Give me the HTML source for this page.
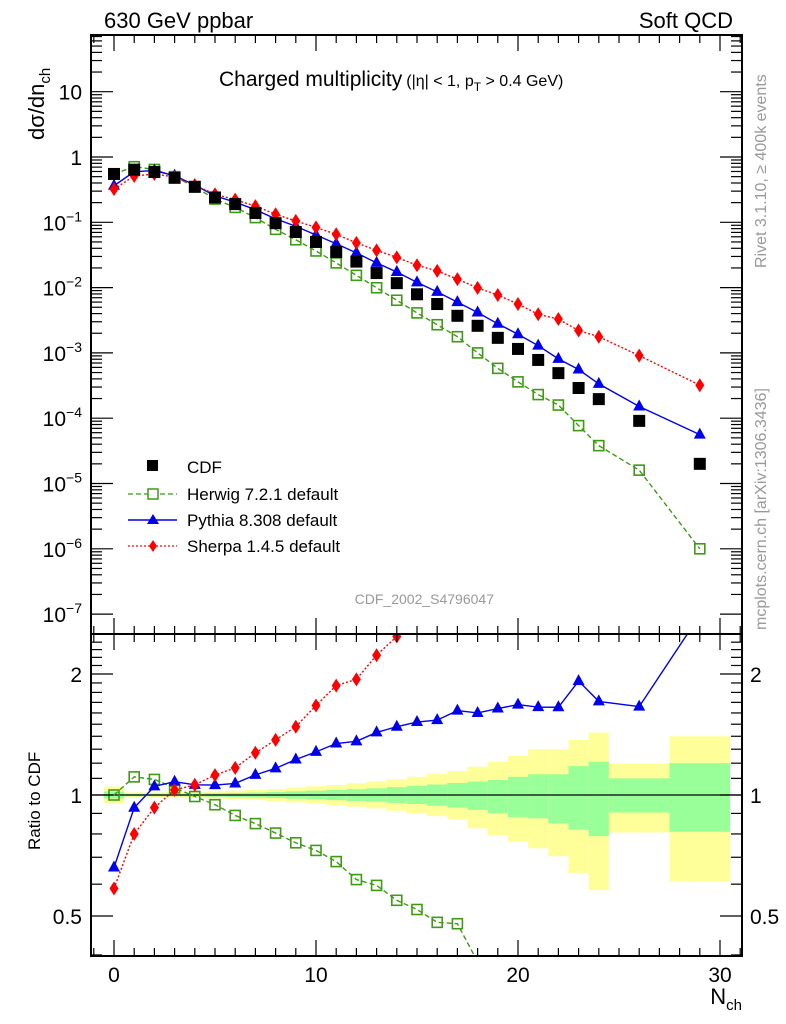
<!DOCTYPE html>
<html><head><meta charset="utf-8"><style>
html,body{margin:0;padding:0;background:#fff;width:786px;height:1024px;overflow:hidden}
svg{display:block;font-family:"Liberation Sans",sans-serif}
</style></head><body>
<svg id="c" width="786" height="1024" xmlns="http://www.w3.org/2000/svg">
<rect x="0" y="0" width="786" height="1024" fill="#fff"/>
<g id="bands"></g>
<g id="series"></g>
<g id="axes"></g>
<text x="104" y="28" font-size="22">630 GeV ppbar</text>
<text x="733" y="28" font-size="22" text-anchor="end">Soft QCD</text>
<text x="219" y="86" font-size="21">Charged multiplicity<tspan font-size="16" dx="4">(|η| &lt; 1, p</tspan><tspan font-size="12" dy="5">T</tspan><tspan font-size="16" dy="-5"> &gt; 0.4 GeV)</tspan></text>
<text transform="translate(44,140) rotate(-90)" font-size="22">dσ/dn<tspan font-size="15" dy="6">ch</tspan></text>
<text transform="translate(40,850) rotate(-90)" font-size="17">Ratio to CDF</text>
<text x="742" y="1004" font-size="22" text-anchor="end">N<tspan font-size="15" dy="6">ch</tspan></text>
<text transform="translate(766,268) rotate(-90)" font-size="16" fill="#999">Rivet 3.1.10, ≥ 400k events</text>
<text transform="translate(766,630) rotate(-90)" font-size="16" fill="#999">mcplots.cern.ch [arXiv:1306.3436]</text>
<text x="494" y="604" font-size="14" fill="#999" text-anchor="end">CDF_2002_S4796047</text>
<g>
<rect x="147" y="460" width="11" height="11" fill="#000"/>
<text x="187" y="473" font-size="17">CDF</text>
<line x1="128" y1="494" x2="177" y2="494" stroke="#3f9a15" stroke-dasharray="5,3" stroke-width="1.3"/>
<rect x="148" y="489" width="10" height="10" fill="#fff" stroke="#3f9a15" stroke-width="1.5"/>
<text x="187" y="500" font-size="17">Herwig 7.2.1 default</text>
<line x1="128" y1="520" x2="177" y2="520" stroke="#0000ee" stroke-width="1.5"/>
<polygon points="153,514 159,524 147,524" fill="#0000ee"/>
<text x="187" y="526" font-size="17">Pythia 8.308 default</text>
<line x1="128" y1="546" x2="177" y2="546" stroke="#ff0000" stroke-dasharray="2,2" stroke-width="1.3"/>
<polygon points="153,540 157,546 153,552 149,546" fill="#ff0000"/>
<text x="187" y="552" font-size="17">Sherpa 1.4.5 default</text>
</g>
</svg>
<script>
const nch = [0,1,2,3,4,5,6,7,8,9,10,11,12,13,14,15,16,17,18,19,20,21,22,23,24,26,29];
const cdf = [0.55,0.64,0.59,0.48,0.35,0.24,0.19,0.139,0.097,0.071,0.050,0.035,0.025,0.0167,0.0117,0.0079,0.0056,0.0037,0.0026,0.0017,0.00115,0.00078,0.00049,0.00029,0.000196,0.000091,0.000020];
const herwig = [0.55,0.71,0.645,0.50,0.347,0.227,0.169,0.118,0.078,0.054,0.0364,0.0239,0.0154,0.00995,0.0064,0.0041,0.0027,0.00177,0.0010,0.00058,0.00036,0.00023,0.000159,0.000077,0.000038,0.000016,0.0000010];
const pythia = [0.363,0.595,0.62,0.518,0.371,0.254,0.203,0.156,0.113,0.087,0.064,0.047,0.034,0.0239,0.0173,0.0120,0.0086,0.0060,0.00416,0.00279,0.00193,0.00129,0.00081,0.000557,0.000335,0.000151,0.000056];
const sherpa = [0.322,0.512,0.549,0.494,0.371,0.269,0.222,0.177,0.133,0.105,0.0835,0.0655,0.0485,0.0372,0.029,0.022,0.018,0.0135,0.0099,0.0077,0.0056,0.0039,0.0033,0.0022,0.00177,0.00091,0.00032];
const yelHi = [1.049,1.015,1.015,1.015,1.015,1.02,1.025,1.029,1.035,1.043,1.051,1.059,1.069,1.08,1.094,1.11,1.128,1.147,1.176,1.21,1.25,1.30,1.30,1.37,1.43,1.197,1.40];
const yelLo = [0.953,0.985,0.985,0.985,0.985,0.98,0.975,0.972,0.966,0.959,0.952,0.944,0.935,0.926,0.914,0.9,0.886,0.872,0.826,0.795,0.765,0.737,0.704,0.64,0.58,0.807,0.61];
const grnHi = [1.02,1.007,1.007,1.007,1.007,1.01,1.012,1.014,1.017,1.021,1.025,1.029,1.034,1.039,1.046,1.054,1.062,1.071,1.08,1.09,1.11,1.126,1.126,1.18,1.21,1.10,1.2];
const grnLo = [0.98,0.993,0.993,0.993,0.993,0.99,0.988,0.986,0.983,0.979,0.975,0.971,0.966,0.962,0.956,0.95,0.94,0.93,0.918,0.9,0.88,0.875,0.85,0.82,0.79,0.905,0.81];
const binLo = [-0.5,0.5,1.5,2.5,3.5,4.5,5.5,6.5,7.5,8.5,9.5,10.5,11.5,12.5,13.5,14.5,15.5,16.5,17.5,18.5,19.5,20.5,21.5,22.5,23.5,24.5,27.5];
const binHi = [0.5,1.5,2.5,3.5,4.5,5.5,6.5,7.5,8.5,9.5,10.5,11.5,12.5,13.5,14.5,15.5,16.5,17.5,18.5,19.5,20.5,21.5,22.5,23.5,24.5,27.5,30.5];
const xTicks = [0,10,20,30];
const yDecades = [-7,-6,-5,-4,-3,-2,-1,0,1];
const rTicks = [0.5,1,2];

const NS="http://www.w3.org/2000/svg";
const L=91,R=742,T=35,MB=634,RB=956;
const X=n=>114+20.2*n;
const Y=v=>157-65.3*Math.log10(v);
const YR=r=>795-121*Math.log2(r);
function mk(tag,attrs,parent){const e=document.createElementNS(NS,tag);for(const k in attrs)e.setAttribute(k,attrs[k]);parent.appendChild(e);return e;}
const gB=document.getElementById('bands'),gS=document.getElementById('series'),gA=document.getElementById('axes');
const clipDefs=mk('defs',{},gB);
const cp1=mk('clipPath',{id:'cm'},clipDefs);mk('rect',{x:L,y:T,width:R-L,height:MB-T},cp1);
const cp2=mk('clipPath',{id:'cr'},clipDefs);mk('rect',{x:L,y:MB,width:R-L,height:RB-MB},cp2);

for(let i=0;i<nch.length;i++){
  const x1=X(binLo[i]),x2=X(Math.min(binHi[i],30.5));
  const y=mk('rect',{x:x1,y:YR(yelHi[i]),width:x2-x1,height:YR(yelLo[i])-YR(yelHi[i]),fill:'#ffff99'},gB);
  
  
  const g=mk('rect',{x:x1,y:YR(grnHi[i]),width:x2-x1,height:YR(grnLo[i])-YR(grnHi[i]),fill:'#99ff99'},gB);
  
  
}
mk('line',{x1:L,y1:YR(1),x2:R,y2:YR(1),stroke:'#000','stroke-width':1.3},gB);

function marker(type,x,y,color,parent,name){
  let e;
  if(type==='sq') e=mk('rect',{x:x-6,y:y-6,width:12,height:12,fill:'#000'},parent);
  else if(type==='osq') e=mk('rect',{x:x-5,y:y-5,width:10,height:10,fill:'#fff','fill-opacity':0,stroke:color,'stroke-width':1.6},parent);
  else if(type==='tri') e=mk('polygon',{points:`${x},${y-7} ${x+6},${y+4} ${x-6},${y+4}`,fill:color},parent);
  else e=mk('polygon',{points:`${x},${y-7} ${x+4.5},${y} ${x},${y+7} ${x-4.5},${y}`,fill:color},parent);
  
  
}
function drawSeries(vals,color,dash,type,name,ratio){
  const g=mk('g',{'clip-path':ratio?'url(#cr)':'url(#cm)'},gS);
  const pts=nch.map((n,i)=>[X(n),ratio?YR(vals[i]/cdf[i]):Y(vals[i])]);
  if(color){const p=mk('polyline',{points:pts.map(p=>p.join(',')).join(' '),fill:'none',stroke:color,'stroke-width':1.4,'stroke-dasharray':dash||'none'},g);
    
    }
  pts.forEach(p=>marker(type,p[0],p[1],color||'#000',g,name+(ratio?'-ratio-point':'-point')));
}
drawSeries(herwig,'#3f9a15','5,3','osq','herwig',false);
drawSeries(pythia,'#0000ee',null,'tri','pythia',false);
drawSeries(sherpa,'#ff0000','2,2','dia','sherpa',false);
drawSeries(cdf,null,null,'sq','cdf',false);
drawSeries(herwig,'#3f9a15','5,3','osq','herwig',true);
drawSeries(pythia,'#0000ee',null,'tri','pythia',true);
drawSeries(sherpa,'#ff0000','2,2','dia','sherpa',true);

mk('rect',{x:L,y:T,width:R-L,height:RB-T,fill:'none',stroke:'#000','stroke-width':2},gA);
mk('line',{x1:L,y1:MB,x2:R,y2:MB,stroke:'#000','stroke-width':2},gA);
for(let n=-1;n<=31;n++){const x=X(n);if(x<L||x>R)continue;const big=n%10===0,len=big?16:8;
  [[T,1],[MB,-1],[MB,1],[RB,-1]].forEach(([y0,d])=>mk('line',{x1:x,y1:y0,x2:x,y2:y0+d*len,stroke:'#000','stroke-width':1.2},gA));}
xTicks.forEach(n=>{const t=mk('text',{x:X(n),y:982,'font-size':21,'text-anchor':'middle'},gA);t.textContent=n;
  });
yDecades.forEach(d=>{for(let m=1;m<10;m++){const v=m*Math.pow(10,d),y=Y(v);if(y<T||y>MB)continue;const len=m===1?22:11;
  mk('line',{x1:L,y1:y,x2:L+len,y2:y,stroke:'#000','stroke-width':1.2},gA);mk('line',{x1:R,y1:y,x2:R-len,y2:y,stroke:'#000','stroke-width':1.2},gA);}
  const y=Y(Math.pow(10,d));if(y<T||y>MB)return;
  const t=mk('text',{x:82,y:y+8,'font-size':21,'text-anchor':'end'},gA);
  
  if(d===0)t.textContent='1';else if(d===1)t.textContent='10';else{t.textContent='10';const s=mk('tspan',{'font-size':14,dy:-9},t);s.textContent='−'+(-d);}
});
for(let r=0.4;r<=2.5;r+=0.1){const y=YR(r);if(y<MB||y>RB)continue;const big=Math.abs(r-0.5)<1e-6||Math.abs(r-1)<1e-6||Math.abs(r-2)<1e-6;const len=big?22:11;
  mk('line',{x1:L,y1:y,x2:L+len,y2:y,stroke:'#000','stroke-width':1.2},gA);mk('line',{x1:R,y1:y,x2:R-len,y2:y,stroke:'#000','stroke-width':1.2},gA);}
rTicks.forEach(r=>{const y=YR(r);
  const t=mk('text',{x:82,y:y+8,'font-size':21,'text-anchor':'end'},gA);t.textContent=r;
  
  const t2=mk('text',{x:750,y:y+8,'font-size':21},gA);t2.textContent=r;
  });
</script>
</body></html>
